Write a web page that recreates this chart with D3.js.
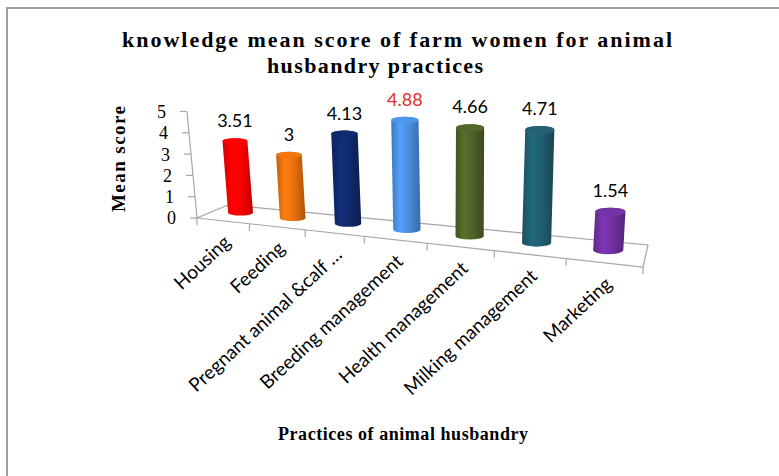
<!DOCTYPE html>
<html>
<head>
<meta charset="utf-8">
<script src="https://cdn.jsdelivr.net/npm/d3@7"></script>
<style>
body { margin: 0; background: #fff; }
svg { display: block; }
</style>
</head>
<body>
<div id="chart-area"></div>
<script>
// data
var categories = ["Housing", "Feeding", "Pregnant animal &calf \u2026", "Breeding management",
                  "Health management", "Milking management", "Marketing"];
var values = [3.51, 3, 4.13, 4.88, 4.66, 4.71, 1.54];
var barColors = ["#ff0000", "#e8700c", "#10296a", "#4a8ede", "#4f6228", "#215d70", "#7030a0"];
var labelColors = ["#000", "#000", "#000", "#e0302a", "#000", "#000", "#000"];
var yTicks = [0, 1, 2, 3, 4, 5];

var width = 779, height = 476;

var svg = d3.select("#chart-area").append("svg")
    .attr("width", width)
    .attr("height", height);

// outer chart border (runs off right/bottom)
svg.append("rect")
    .attr("x", 7).attr("y", 8)
    .attr("width", 820).attr("height", 520)
    .attr("fill", "#fff")
    .attr("stroke", "#a0a0a0")
    .attr("stroke-width", 2);

// 3d floor corners and a bit of perspective
var FL = [197, 218], FR = [643, 267], BL = [228, 205], BR = [648, 245];
var persp = -0.2;
var vanish = [458, 3000];
var backShrink = 19.4 / 21.4;
var barDepth = 0.6;

var xScale = d3.scaleLinear().domain([0, categories.length]).range([0, 1]);
var yScale = d3.scaleLinear().domain([0, 5]).range([0, 107]);

function edgePoint(A, B, t) {
    var d = 1 + persp * t;
    return [(A[0] * (1 - t) + B[0] * (1 + persp) * t) / d,
            (A[1] * (1 - t) + B[1] * (1 + persp) * t) / d];
}
function floorPoint(t, v) {
    var f = edgePoint(FL, FR, t), b = edgePoint(BL, BR, t);
    return [f[0] + (b[0] - f[0]) * v, f[1] + (b[1] - f[1]) * v];
}
function sizeFactor(t, v) {
    return (1 + (backShrink - 1) * v) / (1 + persp * t);
}
function lift(p, h) {
    var dx = p[0] - vanish[0], dy = p[1] - vanish[1];
    var len = Math.sqrt(dx * dx + dy * dy);
    return [p[0] + dx / len * h, p[1] + dy / len * h];
}

var grid = "#a6a6a6";

// floor outline
svg.append("path")
    .attr("d", "M" + FL + "L" + FR + "L" + BR + "L" + BL + "Z")
    .attr("fill", "none")
    .attr("stroke", grid)
    .attr("stroke-width", 1.2);

// category ticks on front edge
d3.range(categories.length + 1).forEach(function (i) {
    var p = edgePoint(FL, FR, xScale(i));
    svg.append("line")
        .attr("x1", p[0]).attr("y1", p[1])
        .attr("x2", p[0]).attr("y2", p[1] + 7)
        .attr("stroke", grid).attr("stroke-width", 1.2);
});

// value axis
var axTop = lift(FL, yScale(5));
svg.append("line")
    .attr("x1", FL[0]).attr("y1", FL[1])
    .attr("x2", axTop[0]).attr("y2", axTop[1])
    .attr("stroke", grid).attr("stroke-width", 1.2);

yTicks.forEach(function (v) {
    var p = lift(FL, yScale(v));
    svg.append("line")
        .attr("x1", p[0] - 7).attr("y1", p[1])
        .attr("x2", p[0]).attr("y2", p[1])
        .attr("stroke", grid).attr("stroke-width", 1.2);
    svg.append("text")
        .attr("x", p[0] - 21).attr("y", p[1])
        .attr("dy", "0.36em")
        .attr("text-anchor", "end")
        .style("font-family", "Liberation Serif")
        .style("font-size", "18px")
        .text(v);
});

// gradients for cylinders
var defs = svg.append("defs");
barColors.forEach(function (c, i) {
    var base = d3.color(c);
    var g = defs.append("linearGradient")
        .attr("id", "cyl" + i)
        .attr("x1", 0).attr("x2", 1).attr("y1", 0).attr("y2", 0);
    g.append("stop").attr("offset", "0%").attr("stop-color", base.darker(0.5));
    g.append("stop").attr("offset", "30%").attr("stop-color", base.brighter(0.35));
    g.append("stop").attr("offset", "60%").attr("stop-color", base);
    g.append("stop").attr("offset", "100%").attr("stop-color", base.darker(0.8));
});

// cylinders
var bars = values.map(function (val, i) {
    var t = xScale(i + 0.5);
    var s = sizeFactor(t, barDepth);
    var bottom = floorPoint(t, barDepth);
    var top = lift(bottom, yScale(val) * s);
    var rx = 13 * s;
    var ry = rx * 0.24 * s;
    return {val: val, i: i, bottom: bottom, top: top, rx: rx, ry: ry};
});

bars.forEach(function (b) {
    var bl = [b.bottom[0] - b.rx, b.bottom[1]], br = [b.bottom[0] + b.rx, b.bottom[1]];
    var tl = [b.top[0] - b.rx, b.top[1]], tr = [b.top[0] + b.rx, b.top[1]];
    var d = "M" + tl + "L" + bl +
        "A" + b.rx + "," + b.ry + " 0 0 0 " + br +
        "L" + tr +
        "A" + b.rx + "," + b.ry + " 0 0 0 " + tl + "Z";
    svg.append("path")
        .attr("d", d)
        .attr("fill", "url(#cyl" + b.i + ")");
    svg.append("ellipse")
        .attr("cx", b.top[0]).attr("cy", b.top[1])
        .attr("rx", b.rx).attr("ry", b.ry)
        .attr("fill", d3.color(barColors[b.i]).brighter(0.15));

    svg.append("text")
        .attr("x", b.top[0])
        .attr("y", b.top[1] - b.ry - 11)
        .attr("text-anchor", "middle")
        .style("font-family", "Lato")
        .style("font-size", "18px")
        .style("fill", labelColors[b.i])
        .text(b.val);
});

// category labels
categories.forEach(function (c, i) {
    var p = edgePoint(FL, FR, xScale(i + 0.5));
    svg.append("text")
        .attr("transform", "translate(" + (p[0] + 9) + "," + (p[1] + 23) + ") rotate(-43)")
        .attr("text-anchor", "end")
        .style("font-family", "Lato")
        .style("font-size", "19px")
        .text(c);
});

// titles
var title = ["knowledge mean score of farm women for animal", "husbandry practices"];
var titleX = [397, 375], titleLen = [550, 216];
svg.selectAll(".title")
    .data(title)
    .enter().append("text")
    .attr("class", "title")
    .attr("x", function (d, i) { return titleX[i]; })
    .attr("y", function (d, i) { return 47 + i * 26; })
    .attr("text-anchor", "middle")
    .attr("textLength", function (d, i) { return titleLen[i]; })
    .attr("lengthAdjust", "spacing")
    .style("font-family", "Liberation Serif")
    .style("font-weight", "bold")
    .style("font-size", "22px")
    .text(function (d) { return d; });

svg.append("text")
    .attr("transform", "translate(125,159) rotate(-90)")
    .attr("text-anchor", "middle")
    .attr("textLength", 106)
    .attr("lengthAdjust", "spacing")
    .style("font-family", "Liberation Serif")
    .style("font-weight", "bold")
    .style("font-size", "19px")
    .text("Mean score");

svg.append("text")
    .attr("x", 403)
    .attr("y", 440)
    .attr("text-anchor", "middle")
    .attr("textLength", 250)
    .attr("lengthAdjust", "spacing")
    .style("font-family", "Liberation Serif")
    .style("font-weight", "bold")
    .style("font-size", "18px")
    .text("Practices of animal husbandry");
</script>
</body>
</html>
